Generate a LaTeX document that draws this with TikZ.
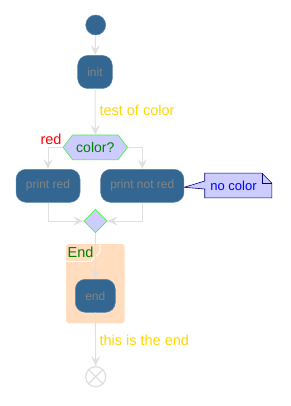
\documentclass[tikz,border=0pt]{standalone}
\usepackage{fontspec}
\setmainfont{Liberation Sans}
\usetikzlibrary{arrows.meta,shapes.geometric,backgrounds}
\definecolor{boxfill}{HTML}{336690}
\definecolor{boxline}{HTML}{5A85AD}
\definecolor{boxtext}{HTML}{858585}
\definecolor{arrowc}{HTML}{E0E0E0}
\definecolor{lav}{HTML}{CCCCFF}
\definecolor{lime}{HTML}{55EE55}
\definecolor{gold}{HTML}{FFD700}
\definecolor{dgreen}{HTML}{008000}
\definecolor{peach}{HTML}{FFDDBE}
\definecolor{navy}{HTML}{000080}
\begin{document}
\begin{tikzpicture}[x=1pt,y=-1pt,
  action/.style={draw=boxline,line width=0.5pt,fill=boxfill,rounded corners=10pt,
    inner sep=0pt,minimum height=33pt,text=boxtext,font=\fontsize{12}{14}\selectfont},
  arr/.style={draw=arrowc,line width=1pt,-{Stealth[length=10pt,width=9pt,inset=4pt]}},
  lbl/.style={font=\fontsize{14.5}{16}\selectfont,inner sep=0pt}]
\useasboundingbox (0,0) rectangle (291,406);

% start
\node[circle,fill=boxfill,draw=boxline,line width=0.5pt,minimum size=20pt,inner sep=0pt] (start) at (95.7,25) {};
\node[action,minimum width=34.6pt] (init) at (95,72) {init};

% decision
\node[inner sep=0pt,minimum width=64pt,minimum height=24.3pt,text=dgreen,font=\fontsize{14}{16}\selectfont] (hex) at (95.3,147.3) {color?};
\begin{pgfonlayer}{background}
\filldraw[fill=lav,draw=lime,line width=0.7pt] (hex.west) -- ([xshift=9.4pt]hex.north west) -- ([xshift=-9.4pt]hex.north east) -- (hex.east) -- ([xshift=-9.4pt]hex.south east) -- ([xshift=9.4pt]hex.south west) -- cycle;
\end{pgfonlayer}

\node[action,minimum width=64pt] (pr) at (48,185.8) {print red};
\node[action,minimum width=83.3pt] (pnr) at (142.3,185.8) {print not red};

% note
\node[inner sep=0pt,minimum width=66.7pt,minimum height=24.4pt] (note) at (238.3,185.5) {};
\node[inner sep=0pt,text=blue,font=\fontsize{13}{15}\selectfont] (notetxt) at (233.5,186.3) {no color};
\begin{pgfonlayer}{background}
\filldraw[fill=lav,draw=navy,line width=0.6pt,line join=miter]
  (note.north west) -- ([xshift=-10pt]note.north east) -- ([yshift=-10pt]note.north east)
  -- (note.south east) -- (note.south west) -- ([yshift=-3.5pt]note.west)
  -- ([yshift=-1.5pt]pnr.east) -- ([yshift=4.5pt]note.west) -- cycle;
\draw[navy,line width=0.6pt] ([xshift=-10pt]note.north east) -- ([xshift=-10pt,yshift=-10pt]note.north east) -- ([yshift=-10pt]note.north east);
\end{pgfonlayer}

% merge
\node[diamond,aspect=1,fill=lav,draw=lime,line width=0.7pt,minimum size=23.6pt,inner sep=0pt] (merge) at (95.5,221) {};

% partition
\coordinate (pa) at (66,244);
\coordinate (pb) at (124.7,323.3);
\begin{pgfonlayer}{background}
\fill[peach,rounded corners=3pt] (pa) rectangle (pb);
\draw[white,line width=1pt] (66,261.3) -- (91,261.3) -- (100,252) -- (100,244);
\end{pgfonlayer}
\node[lbl,anchor=west,text=dgreen] (pname) at (67.5,252.5) {End};

\node[action,minimum width=40pt] (endn) at (95.3,295.8) {end};

% stop
\node[circle,draw=arrowc,line width=1.3pt,minimum size=20pt,inner sep=0pt] (stop) at (95.7,376.7) {};
\draw[arrowc,line width=1.3pt] (stop.north west) -- (stop.south east) (stop.north east) -- (stop.south west);

% connectors
\draw[arr] (start) -- (init);
\draw[arr] (init) -- (hex.north);
\node[lbl,anchor=west,text=gold] (l1) at (99.3,110) {test of color};
\node[lbl,anchor=east,text=red] (l2) at (61.7,139.3) {red};
\draw[arr] (hex.west) -| (pr.north);
\draw[arr] (hex.east) -| (pnr.north);
\draw[arr] (pr.south) |- (merge.west);
\draw[arr] (pnr.south) |- (merge.east);
\draw[arr] (merge.south) -- (endn.north);
\draw[arr] (endn.south) -- (stop.north);
\node[lbl,anchor=west,text=gold] (l3) at (99.3,340.7) {this is the end};
\end{tikzpicture}
\end{document}
